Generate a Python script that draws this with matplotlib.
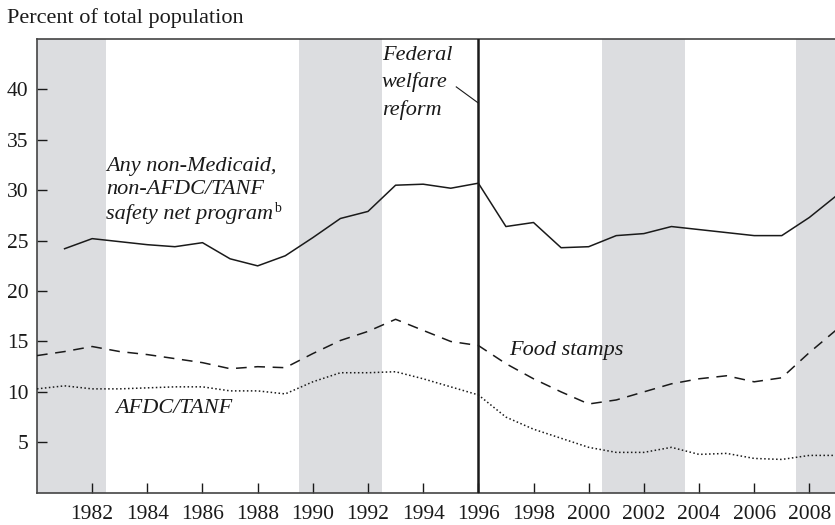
import matplotlib
matplotlib.use("Agg")
import matplotlib.pyplot as plt

plt.rcParams['font.family'] = ['Liberation Serif', 'DejaVu Serif']

years_solid = list(range(1981, 2010))
any_program = [24.2, 25.2, 24.9, 24.6, 24.4, 24.8, 23.2, 22.5, 23.5, 25.3,
               27.2, 27.9, 30.5, 30.6, 30.2, 30.7, 26.4, 26.8, 24.3, 24.4,
               25.5, 25.7, 26.4, 26.1, 25.8, 25.5, 25.5, 27.3, 29.5]

years = list(range(1980, 2010))
food_stamps = [13.6, 14.0, 14.5, 14.0, 13.7, 13.3, 12.9, 12.3, 12.5, 12.4,
               13.8, 15.1, 16.0, 17.2, 16.1, 15.0, 14.6, 12.8, 11.3, 10.0,
               8.8, 9.2, 10.0, 10.8, 11.3, 11.6, 11.0, 11.4, 13.9, 16.2]
afdc_tanf = [10.3, 10.6, 10.3, 10.3, 10.4, 10.5, 10.5, 10.1, 10.1, 9.8,
             11.0, 11.9, 11.9, 12.0, 11.3, 10.5, 9.7, 7.5, 6.3, 5.4,
             4.5, 4.0, 4.0, 4.5, 3.8, 3.9, 3.4, 3.3, 3.7, 3.7]

recessions = [(1979.5, 1982.5), (1989.5, 1992.5), (2000.5, 2003.5), (2007.5, 2010)]
reform_year = 1996
xticks = list(range(1982, 2009, 2))
yticks = [5, 10, 15, 20, 25, 30, 35, 40]

fig = plt.figure(figsize=(8.35, 5.25), dpi=100)
ax = fig.add_axes([0.0443, 0.0615, 0.9557, 0.8642])
ax.set_xlim(1980, 2008.93)
ax.set_ylim(0, 45)

for a, b in recessions:
    ax.axvspan(a, b, color='#dcdde0', lw=0, zorder=0)

ax.axvline(reform_year, color='#1a1a1a', lw=1.8, zorder=3)

ax.plot(years_solid, any_program, color='#1a1a1a', lw=1.1, zorder=4)
ax.plot(years, food_stamps, color='#1a1a1a', lw=1.1, linestyle=(0, (7, 5)), zorder=4)
ax.plot(years, afdc_tanf, color='#1a1a1a', lw=1.1, linestyle=(0, (1, 1.6)), zorder=4)

ax.set_xticks(xticks)
ax.set_xticklabels([str(y) for y in xticks])
ax.set_yticks(yticks)
ax.tick_params(direction='in', length=7, width=1, labelsize=15.5, colors='#1a1a1a')
ax.tick_params(axis='x', pad=9)
ax.tick_params(axis='y', pad=6)

for s in ['left', 'top', 'bottom']:
    ax.spines[s].set_color('#444444')
    ax.spines[s].set_linewidth(1.2)
ax.spines['right'].set_visible(False)

fig.text(0.008, 0.966, 'Percent of total population', fontsize=16, ha='left', va='center', color='#1a1a1a')

tkw = dict(fontsize=16, style='italic', color='#1a1a1a', ha='left', va='center')
ax.text(1982.5, 32.4, 'Any non-Medicaid,', **tkw)
ax.text(1982.5, 30.1, 'non-AFDC/TANF', **tkw)
t = ax.text(1982.5, 27.6, 'safety net program', **tkw)
fig.canvas.draw()
bb = t.get_window_extent()
inv = ax.transData.inverted()
xe, _ = inv.transform((bb.x1 + 1, bb.y0))
ax.text(xe, 28.2, 'b', fontsize=10, color='#1a1a1a', ha='left', va='center')

ax.text(1992.5, 43.4, 'Federal', **tkw)
ax.text(1992.5, 40.7, 'welfare', **tkw)
ax.text(1992.5, 38.0, 'reform', **tkw)
ax.plot([1995.2, reform_year], [40.25, 38.65], color='#1a1a1a', lw=0.8, zorder=4)

ax.text(1997.1, 14.1, 'Food stamps', **tkw)
ax.text(1982.85, 8.4, 'AFDC/TANF', **tkw)

fig.savefig('out.png', dpi=100)
